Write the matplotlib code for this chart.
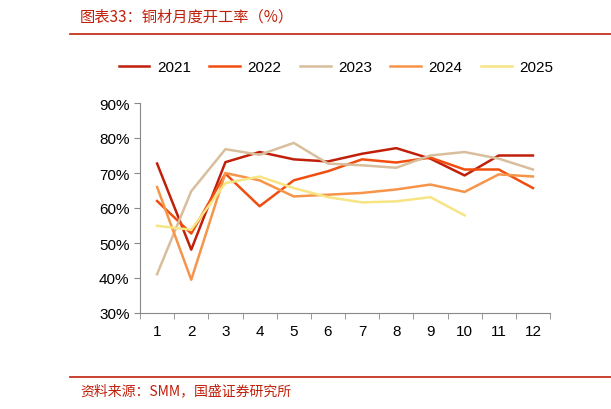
import matplotlib
matplotlib.use("Agg")
import matplotlib.pyplot as plt
from matplotlib.ticker import FuncFormatter
from matplotlib.lines import Line2D

plt.rcParams['font.family'] = ['Liberation Sans', 'Noto Sans CJK SC', 'DejaVu Sans']

months = list(range(1, 13))
y2021 = [72.7, 48.1, 73.1, 76.0, 73.9, 73.3, 75.5, 77.1, 74.1, 69.3, 75.0, 75.0]
y2022 = [62.0, 52.7, 69.8, 60.5, 67.9, 70.5, 73.9, 73.0, 74.4, 71.0, 71.0, 65.7]
y2023 = [41.1, 64.8, 76.8, 75.2, 78.6, 72.7, 72.2, 71.5, 75.0, 76.0, 74.1, 71.0]
y2024 = [66.0, 39.5, 70.0, 67.9, 63.3, 63.8, 64.3, 65.3, 66.7, 64.6, 69.6, 69.0]
y2025 = [54.9, 53.8, 67.1, 69.0, 65.7, 63.1, 61.6, 61.9, 63.1, 57.9]
labels = ['2021', '2022', '2023', '2024', '2025']
colors = ['#C0200A', '#F04E0F', '#D9BE9C', '#F6944A', '#F7E483']
series = [y2021, y2022, y2023, y2024, y2025]

fig = plt.figure(figsize=(6.11, 4.10), dpi=100)
ax = fig.add_axes([140/611, 1-314/410, 410/611, 210/410])
for s, c, l in zip(series, colors, labels):
    ax.plot(months[:len(s)], s, color=c, lw=1.8, label=l)
ax.set_ylim(30, 90)
ax.set_xlim(0.5, 12.5)
ax.set_yticks(range(30, 91, 10))
ax.yaxis.set_major_formatter(FuncFormatter(lambda v, p: f"{int(v)}%"))
ax.set_xticks(months)
ax.set_xticks([x + 0.5 for x in range(0, 13)], minor=True)
ax.tick_params(axis='x', which='major', length=0, pad=8, labelsize=11)
ax.tick_params(axis='x', which='minor', length=4, color='#888888')
ax.tick_params(axis='y', length=4, color='#888888', labelsize=11)
for sp in ['top', 'right']:
    ax.spines[sp].set_visible(False)
for sp in ['left', 'bottom']:
    ax.spines[sp].set_color('#888888')

handles = [Line2D([], [], color=c, lw=1.8) for c in colors]
fig.legend(handles, labels, loc='center', bbox_to_anchor=(0.55, 1-68/410), ncol=5,
           frameon=False, fontsize=11, handlelength=2.0, handletextpad=0.5, columnspacing=1.2)

fig.text(80/611, 1-17/410, "图表33：铜材月度开工率（%）", color='#C0200A', fontsize=11,
         style='italic', va='center', family=['Noto Sans CJK SC'])
fig.add_artist(Line2D([70/611, 1.0], [1-35/410, 1-35/410], color='#C0200A', lw=1.2))
fig.add_artist(Line2D([70/611, 1.0], [1-378/410, 1-378/410], color='#C0200A', lw=1.2))
fig.text(80/611, 1-391/410, "资料来源：SMM，国盛证券研究所", color='#C0200A', fontsize=10,
         style='italic', va='center', family=['Noto Sans CJK SC'])

fig.savefig("out.png", dpi=100)
